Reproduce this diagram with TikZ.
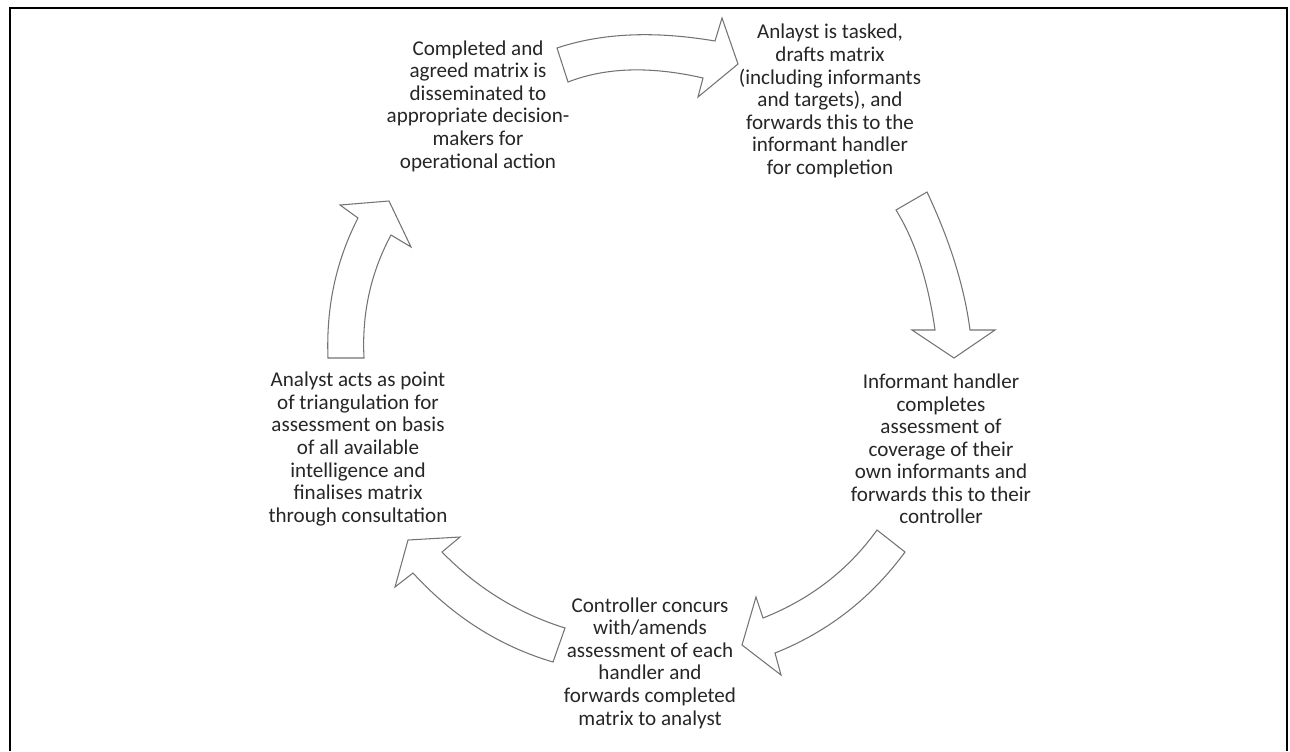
\documentclass[tikz,border=0pt]{standalone}
\usepackage{fontspec}
\setmainfont{Carlito}
\begin{document}
\begin{tikzpicture}[x=0.02cm,y=-0.02cm,
  blockarrow/.style={draw=black!55, line width=0.6pt, fill=white, line join=miter},
  frame/.style={draw=black, line width=1.6pt},
  steptext/.style={align=center, text=black!85, inner sep=0pt,
    font=\fontsize{12}{12.85}\selectfont}]
\useasboundingbox (0,0) rectangle (1290,751);
\draw[frame] (10,751) -- (10,8) -- (1287,8) -- (1287,751);

% text nodes
\node[steptext] (tl) at (478,106) {Completed and\\agreed matrix is\\disseminated to\\appropriate decision-\\makers for\\operational action};
\node[steptext] (tr) at (830,101) {Anlayst is tasked,\\drafts matrix\\(including informants\\and targets), and\\forwards this to the\\informant handler\\for completion};
\node[steptext] (r) at (941,449) {Informant handler\\completes\\assessment of\\coverage of their\\own informants and\\forwards this to their\\controller};
\node[steptext] (b) at (650,663) {Controller concurs\\with/amends\\assessment of each\\handler and\\forwards completed\\matrix to analyst};
\node[steptext] (l) at (358,449) {Analyst acts as point\\of triangulation for\\assessment on basis\\of all available\\intelligence and\\finalises matrix\\through consultation};

% top arrow
\draw[blockarrow] (557,48) .. controls (601.7,33) and (654.3,30.7) .. (715,41)
  -- (722,18) -- (738,64) -- (698,97) -- (703,78)
  .. controls (650.7,66) and (605.7,67.3) .. (568,82) -- cycle;
% right arrow
\draw[blockarrow] (927,192) .. controls (950,240.7) and (964.3,286.7) .. (970,330)
  -- (995,330) -- (954,358) -- (912,330) -- (935,330)
  .. controls (928,280.7) and (915,240.7) .. (896,210) -- cycle;
% bottom-right arrow
\draw[blockarrow] (877,530) .. controls (848.3,570) and (810.3,599.3) .. (763,618)
  -- (756,597) -- (742,645) -- (781,675) -- (775,653)
  .. controls (827.7,632) and (871,598.3) .. (905,552) -- cycle;
% bottom-left arrow
\draw[blockarrow] (565,628) .. controls (518,613.3) and (477,588) .. (442,552)
  -- (460,537) -- (408,540) -- (395,587) -- (413,573)
  .. controls (453,616.7) and (499.7,646.3) .. (553,662) -- cycle;
% left arrow
\draw[blockarrow] (328,358) .. controls (326,307.3) and (336,260.7) .. (358,218)
  -- (340,205) -- (389,201) -- (411,247) -- (391,235)
  .. controls (370.7,272.7) and (361.7,313.7) .. (364,358) -- cycle;
\end{tikzpicture}
\end{document}
